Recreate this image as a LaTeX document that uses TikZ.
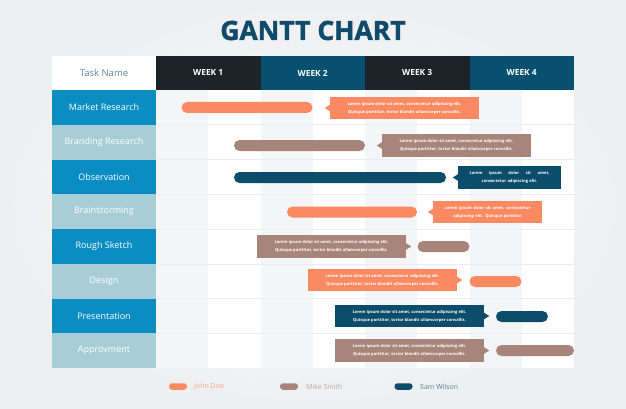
\documentclass[tikz,border=0pt]{standalone}
\usepackage{fontspec}
\setmainfont{Open Sans}
\newfontfamily\titlefont[BoldFeatures={FakeBold=1.6}]{Open Sans}
\usetikzlibrary{positioning}
\definecolor{bgC}{HTML}{EEEFF0}
\definecolor{orangeC}{HTML}{FB8A62}
\definecolor{brownC}{HTML}{A8857A}
\definecolor{navyC}{HTML}{0B4D6B}
\definecolor{headDark}{HTML}{1C2329}
\definecolor{headBlue}{HTML}{07506F}
\definecolor{taskDark}{HTML}{0A8DC3}
\definecolor{taskLight}{HTML}{A7CDD7}
\definecolor{titleC}{HTML}{114B6A}
\definecolor{stripeC}{HTML}{F4F5F6}
\definecolor{gridC}{HTML}{EAECEE}
\definecolor{taskNameC}{HTML}{5A8A99}
\tikzset{
  bar/.style={fill=#1, rounded corners=5.5pt, inner sep=0pt, minimum height=11pt},
  callout/.style={fill=#1, inner sep=0pt, minimum height=22.5pt, text=white, align=center,
    font=\fontsize{4.1}{8}\selectfont\bfseries},
  taskcell/.style={fill=#1, minimum width=104pt, minimum height=34.75pt, inner sep=0pt,
    text=white, font=\fontsize{9}{10}\selectfont},
  headcell/.style={fill=#1, minimum width=104.5pt, minimum height=34pt, inner sep=0pt,
    text=white, font=\fontsize{8.4}{10}\selectfont\bfseries},
  legendpill/.style={fill=#1, rounded corners=3pt, minimum width=18pt, minimum height=6.5pt, inner sep=0pt},
  legendtext/.style={font=\fontsize{7}{8}\selectfont, anchor=west, inner sep=0pt}
}
\newcommand{\ptrL}[2]{\fill[#2] ([yshift=3.2pt]#1.west) -- ([xshift=-5pt]#1.west) -- ([yshift=-3.2pt]#1.west) -- cycle;}
\newcommand{\ptrR}[2]{\fill[#2] ([yshift=3.2pt]#1.east) -- ([xshift=5pt]#1.east) -- ([yshift=-3.2pt]#1.east) -- cycle;}
\newcommand{\lorA}{Lorem ipsum dolor sit amet, consectetur adipiscing elit.\\Quisque porttitor, tortor blandit ullamcorper convallis.}
\begin{document}
\begin{tikzpicture}[x=1pt,y=-1pt]
\useasboundingbox (0,0) rectangle (626,409);
\fill[bgC] (0,0) rectangle (626,409);
\shade[inner color=white!70!bgC, outer color=bgC] (0,0) rectangle (626,409);
% title
\node[text=titleC, font=\fontsize{26.5}{30}\titlefont\bfseries] (title) at (313,30.5) {GANTT CHART};
% table body
\fill[white] (156,90) rectangle (574,368);
\foreach \i in {0,2,4,6} {
  \fill[stripeC] ({156+\i*52.25},90) rectangle ({156+(\i+1)*52.25},368);
}
\foreach \r in {1,...,7} {
  \draw[gridC, line width=0.5pt] (156,{90+\r*34.75}) -- (574,{90+\r*34.75});
}
% header
\node[fill=white, minimum width=104pt, minimum height=34pt, inner sep=0pt, text=taskNameC,
  font=\fontsize{9.5}{11}\selectfont] (tn) at (104,73) {Task Name};
\node[headcell=headDark] (w1) at (208.25,73) {WEEK 1};
\node[headcell=headBlue] (w2) at (312.75,73) {WEEK 2};
\node[headcell=headDark] (w3) at (417.25,73) {WEEK 3};
\node[headcell=headBlue] (w4) at (521.75,73) {WEEK 4};
% task column
\node[taskcell=taskDark]  (t1) at (104,107.375) {Market Research};
\node[taskcell=taskLight] (t2) at (104,142.125) {Branding Research};
\node[taskcell=taskDark]  (t3) at (104,176.875) {Observation};
\node[taskcell=taskLight] (t4) at (104,211.625) {Brainstorming};
\node[taskcell=taskDark]  (t5) at (104,246.375) {Rough Sketch};
\node[taskcell=taskLight] (t6) at (104,281.125) {Design};
\node[taskcell=taskDark]  (t7) at (104,315.875) {Presentation};
\node[taskcell=taskLight] (t8) at (104,350.625) {Approvment};
% row 1
\node[bar=orangeC, minimum width=131pt] (b1) at (247,107.5) {};
\node[callout=orangeC, minimum width=149pt] (c1) at (404.5,108) {\lorA};
\ptrL{c1}{orangeC}
% row 2
\node[bar=brownC, minimum width=131pt] (b2) at (299.5,145.5) {};
\node[callout=brownC, minimum width=149pt] (c2) at (456.5,145.5) {\lorA};
\ptrL{c2}{brownC}
% row 3
\node[bar=navyC, minimum width=212pt] (b3) at (340,177.5) {};
\node[callout=navyC, minimum width=103pt, text width=80pt] (c3) at (509.5,177.5)
  {Lorem\hfill ipsum\hfill dolor\hfill sit\hfill amet,\\consectetur adipiscing elit.};
\ptrL{c3}{navyC}
% row 4
\node[bar=orangeC, minimum width=130pt] (b4) at (352,212) {};
\node[callout=orangeC, minimum width=109pt, text width=86pt] (c4) at (487.5,212)
  {Lorem\hfill ipsum\hfill dolor\hfill sit\hfill amet,\hfill consectetur\\adipiscing elit. Quisque porttitor};
\ptrL{c4}{orangeC}
% row 5
\node[callout=brownC, minimum width=149pt] (c5) at (331.5,246.5) {\lorA};
\ptrR{c5}{brownC}
\node[bar=brownC, minimum width=52pt] (b5) at (443.5,246.5) {};
% row 6
\node[callout=orangeC, minimum width=149pt] (c6) at (382.5,280) {\lorA};
\ptrR{c6}{orangeC}
\node[bar=orangeC, minimum width=52pt] (b6) at (495.5,281.5) {};
% row 7
\node[callout=navyC, minimum width=149pt] (c7) at (409.5,316) {\lorA};
\ptrR{c7}{navyC}
\node[bar=navyC, minimum width=52pt] (b7) at (522,316.5) {};
% row 8
\node[callout=brownC, minimum width=149pt] (c8) at (409.5,350.5) {\lorA};
\ptrR{c8}{brownC}
\node[bar=brownC, minimum width=78pt] (b8) at (535,350.5) {};
% legend
\node[legendpill=orangeC] (l1) at (178,386.5) {};
\node[legendtext, text=orangeC!75!white] (l1t) at (194,386.5) {John Doe};
\node[legendpill=brownC] (l2) at (289,386.5) {};
\node[legendtext, text=brownC!70!white] (l2t) at (306,386.5) {Mike Smith};
\node[legendpill=navyC] (l3) at (403.5,386.5) {};
\node[legendtext, text=navyC!70!white] (l3t) at (420,386.5) {Sam Wilson};
\end{tikzpicture}
\end{document}
